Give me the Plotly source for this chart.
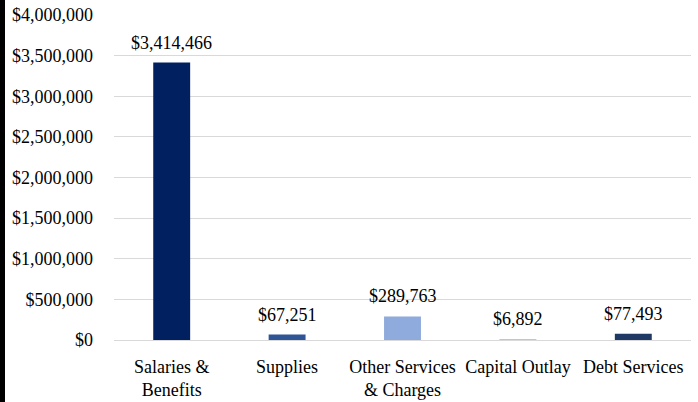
import plotly.graph_objects as go

categories = ["Salaries &<br>Benefits", "Supplies", "Other Services<br>& Charges", "Capital Outlay", "Debt Services"]
values = [3414466, 67251, 289763, 6892, 77493]
colors = ["#002060", "#2F5597", "#8FAADC", "#B4C7E7", "#203864"]
tick_vals = [0, 500000, 1000000, 1500000, 2000000, 2500000, 3000000, 3500000, 4000000]
tick_text = ["$0", "$500,000", "$1,000,000", "$1,500,000", "$2,000,000", "$2,500,000", "$3,000,000", "$3,500,000", "$4,000,000"]
labels = ["${:,}".format(v) for v in values]

FONT = "Liberation Serif"
FS = 18
L, R, T, B = 114, 7, 15, 62
W, H = 698, 402
pw = W - L - R
ph = H - T - B

fig = go.Figure(go.Bar(
    x=categories, y=values, marker=dict(color=colors, line=dict(width=0)),
    hoverinfo="skip",
))
for c, v, t in zip(categories, values, labels):
    fig.add_annotation(x=c, y=v, text=t, showarrow=False, xanchor="center", yanchor="bottom",
                       yshift=8, font=dict(family=FONT, size=FS, color="#000000"))
fig.update_layout(
    width=W, height=H, margin=dict(l=L, r=R, t=T, b=B, autoexpand=False),
    paper_bgcolor="white", plot_bgcolor="white",
    bargap=0.68, showlegend=False,
    font=dict(family=FONT, size=FS, color="#000000"),
    xaxis=dict(showgrid=False, showline=False, ticks="", ticklabelstandoff=14,
               tickfont=dict(family=FONT, size=FS, color="#000000")),
    yaxis=dict(range=[0, 4000000], tickvals=tick_vals, ticktext=tick_text,
               showgrid=True, gridcolor="#D9D9D9", gridwidth=1,
               zeroline=True, zerolinecolor="#D9D9D9", zerolinewidth=1,
               ticks="", ticklabelstandoff=20,
               tickfont=dict(family=FONT, size=FS, color="#000000")),
    shapes=[dict(type="rect", xref="paper", yref="paper",
                 x0=-L / pw, x1=(-L + 5) / pw, y0=-B / ph, y1=1 + T / ph,
                 fillcolor="black", line=dict(width=0), layer="above")],
)
fig.write_html("out.html", config={"displayModeBar": False},
               post_script="document.body.style.margin='0';")
